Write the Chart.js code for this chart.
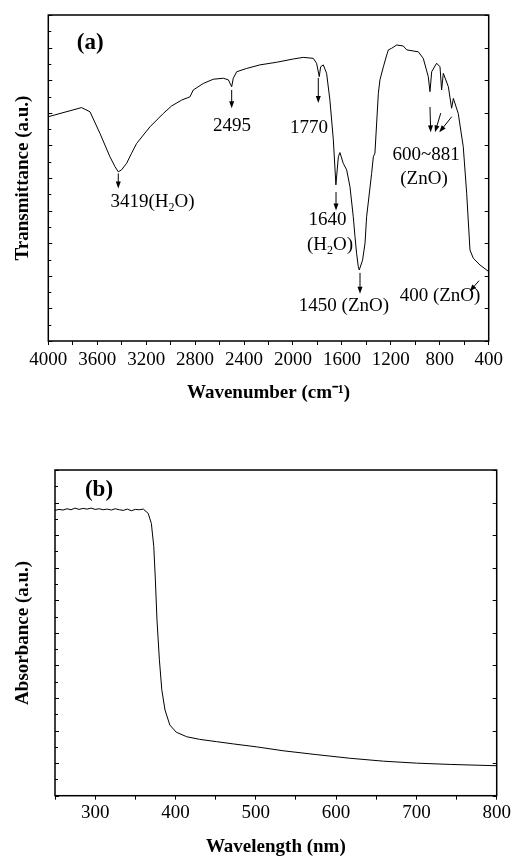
<!DOCTYPE html>
<html>
<head>
<meta charset="utf-8">
<script src="https://cdn.jsdelivr.net/npm/chart.js@4.4.0/dist/chart.umd.min.js"></script>
<style>
  html, body { margin: 0; padding: 0; background: #fff; }
  #wrapA { position: absolute; left: 0; top: 0; width: 511px; height: 420px; }
  #wrapB { position: absolute; left: 0; top: 420px; width: 511px; height: 438px; }
</style>
</head>
<body>
<div id="wrapA"><canvas id="chartA"></canvas></div>
<div id="wrapB"><canvas id="chartB"></canvas></div>
<script>
// (a) FTIR spectrum
const ftirWavenumber = [4000, 3728, 3659, 3578, 3537, 3496, 3455, 3428, 3401, 3360,
  3319, 3278, 3169, 3060, 2992, 2910, 2842, 2815, 2733, 2651,
  2569, 2528, 2501, 2488, 2460, 2379, 2270, 2134, 1998, 1916,
  1834, 1807, 1785, 1774, 1752, 1725, 1698, 1670, 1649, 1629,
  1616, 1589, 1561, 1534, 1507, 1493, 1480, 1466, 1458, 1431,
  1411, 1398, 1357, 1343, 1330, 1302, 1289, 1261, 1234, 1220,
  1193, 1152, 1098, 1070, 975, 935, 894, 880, 866, 826,
  798, 785, 771, 730, 703, 689, 649, 608, 580, 553,
  526, 471, 400];
const ftirTransmittance = [68.8, 71.6, 70.3, 63.7, 60.1, 56.5, 53.5, 51.9, 52.5, 54.5,
  57.6, 60.6, 65.7, 69.8, 72.1, 73.9, 74.9, 77.0, 79.0, 80.3,
  80.6, 80.1, 78.0, 80.6, 82.6, 83.6, 84.7, 85.5, 86.5, 87.0,
  86.7, 85.2, 81.1, 84.1, 84.7, 82.1, 73.9, 61.7, 47.9, 56.5,
  57.8, 54.5, 52.5, 47.3, 38.1, 32.0, 26.9, 22.8, 21.8, 24.8,
  30.0, 38.1, 51.4, 56.5, 57.6, 76.0, 80.1, 84.1, 87.7, 89.3,
  89.8, 90.8, 90.5, 89.3, 88.7, 86.7, 81.1, 76.5, 82.6, 85.2,
  84.1, 77.0, 82.1, 78.0, 71.4, 74.4, 69.8, 59.6, 45.3, 27.9,
  25.4, 23.3, 21.3];

// peak labels: text, wavenumber, level ('_' marks a subscript character)
const ftirLabelText = ['3419(H_2O)', '2495', '1770', '1640', '(H_2O)', '1450 (ZnO)', '600~881', '(ZnO)', '400 (ZnO)'];
const ftirLabelX = [3148, 2498, 1869, 1718, 1697, 1583, 912, 929, 798];
const ftirLabelY = [42.6, 66.0, 65.3, 37.1, 29.4, 10.7, 57.1, 49.7, 13.8];
// arrows: [from x, from y, to x, to y]
const ftirArrows = [
  [3428, 51.4, 3428, 46.8],
  [2501, 77.0, 2501, 71.4],
  [1793, 80.7, 1793, 73.0],
  [1648, 45.7, 1648, 40.0],
  [1452, 20.9, 1452, 14.5],
  [880, 71.8, 874, 64.0],
  [792, 69.9, 839, 64.0],
  [702, 68.8, 804, 64.0],
  [479, 18.5, 556, 15.2]
];

// (b) UV-vis absorbance
const uvWavelength = [250, 255, 260, 265, 270, 275, 280, 285, 290, 295,
  300, 305, 310, 315, 320, 325, 330, 335, 340, 345,
  350, 355, 360, 366, 370, 373, 375, 377, 380, 383,
  387, 393, 401, 414, 430, 451, 472, 501, 534, 576,
  617, 659, 700, 742, 800];
const uvAbsorbance = [87.6, 87.9, 87.7, 88.1, 87.8, 88.3, 87.9, 88.2, 88.0, 88.3,
  87.9, 88.1, 87.8, 88.0, 87.7, 88.1, 87.8, 87.6, 88.0, 87.5,
  87.9, 87.8, 88.0, 86.7, 83.6, 76.5, 66.2, 53.9, 41.7, 32.5,
  26.3, 21.7, 19.5, 18.1, 17.3, 16.6, 15.9, 15.0, 13.8, 12.6,
  11.5, 10.6, 10.0, 9.6, 9.2];

const serif = '"Liberation Serif", "Times New Roman", serif';
Chart.defaults.font.family = serif;
Chart.defaults.color = '#000';

function drawRich(ctx, text, cx, cy, size) {
  const segs = [];
  text.split('_').forEach((p, i) => {
    if (i === 0) segs.push([p, false]);
    else { segs.push([p[0], true]); segs.push([p.slice(1), false]); }
  });
  const fN = size + 'px ' + serif;
  const fS = Math.round(size * 0.65) + 'px ' + serif;
  let w = 0;
  segs.forEach(s => { ctx.font = s[1] ? fS : fN; w += ctx.measureText(s[0]).width; });
  let x = cx - w / 2;
  ctx.textAlign = 'left';
  ctx.textBaseline = 'middle';
  segs.forEach(s => {
    ctx.font = s[1] ? fS : fN;
    ctx.fillText(s[0], x, cy + (s[1] ? size * 0.32 : 0));
    x += ctx.measureText(s[0]).width;
  });
}

const framePlugin = {
  id: 'frame',
  afterDraw(chart) {
    const { ctx, chartArea: a } = chart;
    const y = chart.scales.y;
    ctx.save();
    ctx.strokeStyle = '#000';
    ctx.lineWidth = 1;
    y.ticks.forEach(t => {
      const py = Math.round(y.getPixelForValue(t.value)) + 0.5;
      const major = t.value % 10 === 0;
      ctx.beginPath();
      ctx.moveTo(a.left, py);
      ctx.lineTo(a.left + (major ? 4 : 3), py);
      if (major) { ctx.moveTo(a.right, py); ctx.lineTo(a.right - 4, py); }
      ctx.stroke();
    });
    ctx.lineWidth = 1.5;
    ctx.strokeRect(a.left, a.top, a.right - a.left, a.bottom - a.top);
    ctx.restore();
  }
};

const notesPlugin = {
  id: 'notes',
  afterDraw(chart, args, opts) {
    const { ctx } = chart;
    const xs = chart.scales.x, ys = chart.scales.y;
    ctx.save();
    ctx.fillStyle = '#000';
    ctx.strokeStyle = '#000';
    (opts.texts || []).forEach((t, i) => {
      drawRich(ctx, t, xs.getPixelForValue(opts.xs[i]), ys.getPixelForValue(opts.ys[i]), 19);
    });
    (opts.arrows || []).forEach(ar => {
      const x1 = xs.getPixelForValue(ar[0]), y1 = ys.getPixelForValue(ar[1]);
      const x2 = xs.getPixelForValue(ar[2]), y2 = ys.getPixelForValue(ar[3]);
      const ang = Math.atan2(y2 - y1, x2 - x1);
      ctx.lineWidth = 1;
      ctx.beginPath();
      ctx.moveTo(x1, y1);
      ctx.lineTo(x2 - 5 * Math.cos(ang), y2 - 5 * Math.sin(ang));
      ctx.stroke();
      ctx.beginPath();
      ctx.moveTo(x2, y2);
      ctx.lineTo(x2 - 7 * Math.cos(ang) + 2.5 * Math.sin(ang), y2 - 7 * Math.sin(ang) - 2.5 * Math.cos(ang));
      ctx.lineTo(x2 - 7 * Math.cos(ang) - 2.5 * Math.sin(ang), y2 - 7 * Math.sin(ang) + 2.5 * Math.cos(ang));
      ctx.closePath();
      ctx.fill();
    });
    if (opts.tag) {
      ctx.font = 'bold 23px ' + serif;
      ctx.textAlign = 'center';
      ctx.textBaseline = 'middle';
      ctx.fillText(opts.tag[0], xs.getPixelForValue(opts.tag[1]), ys.getPixelForValue(opts.tag[2]));
    }
    ctx.restore();
  }
};

function makeChart(id, xVals, yVals, cfg) {
  const pts = xVals.map((v, i) => ({ x: v, y: yVals[i] }));
  return new Chart(document.getElementById(id), {
    type: 'line',
    data: {
      datasets: [{
        data: pts,
        borderColor: '#000',
        borderWidth: 1,
        pointRadius: 0,
        tension: 0,
        fill: false
      }]
    },
    options: {
      responsive: true,
      maintainAspectRatio: false,
      animation: false,
      layout: { padding: cfg.padding },
      plugins: {
        legend: { display: false },
        tooltip: { enabled: false },
        notes: cfg.notes
      },
      scales: {
        x: {
          type: 'linear',
          reverse: cfg.reverse,
          min: cfg.xMin,
          max: cfg.xMax,
          border: { display: false },
          grid: { drawOnChartArea: false, drawTicks: true, tickLength: 4, color: '#000', lineWidth: 1 },
          ticks: {
            stepSize: cfg.step,
            autoSkip: false,
            minRotation: 0,
            maxRotation: 0,
            padding: cfg.tickPad,
            font: { size: 19 },
            color: '#000',
            callback: v => (v % (cfg.step * 2) === 0 ? String(v) : '')
          },
          title: {
            display: true,
            text: cfg.xTitle,
            font: { size: 19, weight: 'bold' },
            color: '#000',
            padding: { top: 0, bottom: cfg.xTitlePad }
          },
          afterFit: s => { s.height = cfg.xHeight; s.paddingLeft = 0; s.paddingRight = 0; }
        },
        y: {
          min: 0,
          max: 100,
          border: { display: false },
          grid: { display: false },
          ticks: { display: false, stepSize: 5 },
          title: {
            display: true,
            text: cfg.yTitle,
            font: { size: 19, weight: 'bold' },
            color: '#000',
            padding: { top: 11.6, bottom: 0 }
          },
          afterFit: s => { s.width = cfg.yWidth; }
        }
      }
    },
    plugins: [framePlugin, notesPlugin]
  });
}

makeChart('chartA', ftirWavenumber, ftirTransmittance, {
  padding: { top: 15, right: 22.3, left: 0, bottom: 0 },
  reverse: true, xMin: 400, xMax: 4000, step: 200, tickPad: 4,
  xTitle: 'Wavenumber (cm\u207B\u00B9)', xTitlePad: 15.6, xHeight: 79,
  yTitle: 'Transmittance (a.u.)', yWidth: 48.3,
  notes: { texts: ftirLabelText, xs: ftirLabelX, ys: ftirLabelY, arrows: ftirArrows, tag: ['(a)', 3658, 91.4] }
});

makeChart('chartB', uvWavelength, uvAbsorbance, {
  padding: { top: 50, right: 14.3, left: 0, bottom: 0 },
  reverse: false, xMin: 250, xMax: 800, step: 50, tickPad: 2,
  xTitle: 'Wavelength (nm)', xTitlePad: 0, xHeight: 62.3,
  yTitle: 'Absorbance (a.u.)', yWidth: 55,
  notes: { texts: [], xs: [], ys: [], arrows: [], tag: ['(b)', 304.8, 93.9] }
});
</script>
</body>
</html>
